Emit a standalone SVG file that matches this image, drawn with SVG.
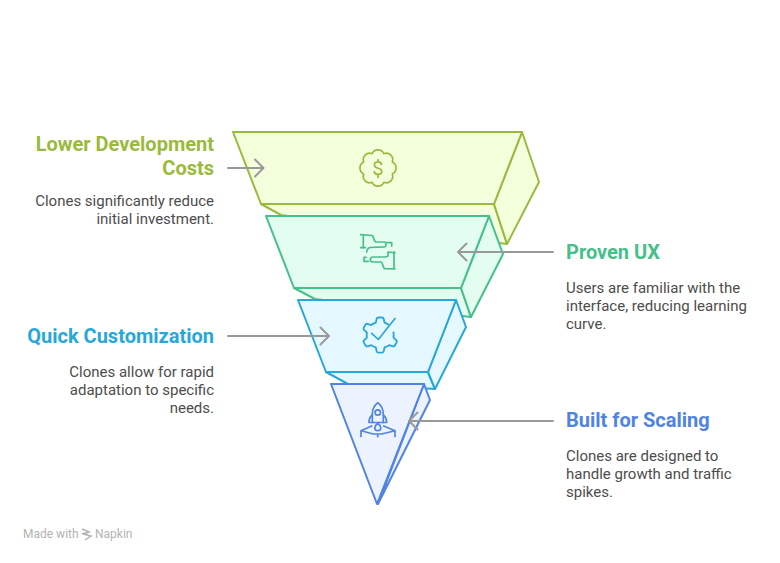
<svg xmlns="http://www.w3.org/2000/svg" width="780" height="563" viewBox="0 0 780 563">
<style>
text{font-family:Roboto,"Liberation Sans",sans-serif}
.t{font-size:20px;font-weight:700}
.b{font-size:15px;fill:#4d4d4d}
.e{text-anchor:end}
.s{stroke-width:2;stroke-linejoin:round;stroke-linecap:round}
.i{fill:none;stroke-width:1.7;stroke-linecap:round;stroke-linejoin:round}
.c{fill:none;stroke:#999;stroke-width:2;stroke-linecap:round;stroke-linejoin:round}
.w{font-size:12px;fill:#b3b3b3}
</style>
<rect width="780" height="563" fill="#fff"/>
<g id="node-lower-development-costs">
<path class="s" d="M261 204L494 204L507 244L281 215Z" fill="#f4ffdc" stroke="#9aba3e" />
<path class="s" d="M522 132L539 182L507 244L494 204Z" fill="#f4ffdc" stroke="#9aba3e"/>
<path class="s" d="M233 132H522L494 204H261Z" fill="#f4ffdc" stroke="#9aba3e"/>
<g class="i" stroke="#9aba3e">
<path d="M383.900 153.700A6.500 6.500 0 0 1 392.300 162.100A6.500 6.500 0 0 1 392.300 173.900A6.500 6.500 0 0 1 383.900 182.300A6.500 6.500 0 0 1 372.100 182.300A6.500 6.500 0 0 1 363.700 173.900A6.500 6.500 0 0 1 363.700 162.100A6.500 6.500 0 0 1 372.100 153.700A6.500 6.500 0 0 1 383.900 153.700Z"/>
<path d="M381.500 164.500c-.3-1.600-1.700-2.600-3.500-2.600c-2.100 0-3.600 1.200-3.600 3c0 4.400 7.400 2.400 7.400 6.400c0 1.900-1.600 3.100-3.800 3.100c-1.900 0-3.300-1-3.700-2.700M378 159.500v2.400M378 174.400v3"/>
</g>
</g>
<g id="node-proven-ux">
<path class="s" d="M294 288L461 288L471 317L315 299Z" fill="#e4fdf1" stroke="#45c08a"/>
<path class="s" d="M489 216L503 254L471 317L461 288Z" fill="#e4fdf1" stroke="#45c08a"/>
<path class="s" d="M266 216H489L461 288H294Z" fill="#e4fdf1" stroke="#45c08a"/>
<g class="i" stroke="#45c08a">
<path d="M360.700 234.700L372 235.500C374 236 373.500 242 376 242H384.500C386.500 242 386.500 246.500 384.500 246.800L370 247.500C367.500 248 367 249 366.700 252M363.300 235V248M360.700 247.700H365.500M386.700 242.700H391.700V246"/>
<path d="M395 253L388 252V255.500C388 256.500 387 256.800 385 257H372.500C369.500 257.500 369.500 261.500 372.500 262H381C383 262 382.500 268.500 385 268.700L395 269M394 251.700V269M364 257.300V261.300H368.300M364 257.300H366"/>
</g>
</g>
<g id="node-quick-customization">
<path class="s" d="M326 372L428 372L435 389L348 384Z" fill="#e6f8ff" stroke="#27a8d8"/>
<path class="s" d="M456 300L466 327L435 389L428 372Z" fill="#e6f8ff" stroke="#27a8d8"/>
<path class="s" d="M298 300H456L428 372H326Z" fill="#e6f8ff" stroke="#27a8d8"/>
<g class="i" stroke="#27a8d8">
<path transform="translate(378 335.500) scale(1.09) translate(-378.500 -331.500)" d="M388 321.500c-1.500-1-2.500-1.500-3.500-1.800l-.8-3.500c-.2-.7-.7-1.200-1.500-1.200h-3.400c-.8 0-1.300 .5-1.500 1.200l-.8 3.500c-1.600 .5-3 1.200-4.200 2.200l-3.400-1.100c-.7-.2-1.400 0-1.800 .7l-1.700 2.900c-.4 .7-.3 1.400 .3 1.900l2.600 2.400c-.3 1.600-.3 3.200 0 4.800l-2.600 2.400c-.6 .5-.7 1.200-.3 1.900l1.700 2.900c.4 .7 1.100 .9 1.800 .7l3.400-1.100c1.200 1 2.600 1.700 4.200 2.200l.8 3.500c.2 .7 .7 1.200 1.500 1.200h3.400c.8 0 1.300-.5 1.500-1.200l.8-3.500c1.600-.5 3-1.200 4.200-2.200l3.400 1.100c.7 .2 1.400 0 1.800-.7l1.700-2.900c.4-.7 .3-1.400-.3-1.900l-2.600-2.400c.3-1.600 .3-3.200 0-4.800"/>
<path d="M371.700 333.300L378.300 339.500L395 318.500"/>
</g>
</g>
<g id="node-built-for-scaling">
<path class="s" d="M424 384L430 400L378 504Z" fill="#edf3fe" stroke="#5084e0"/>
<path class="s" d="M331 384H424L377 504Z" fill="#edf3fe" stroke="#5084e0"/>
<g class="i" stroke="#5084e0">
<path d="M377.800 402.700c-3.700 3-5.500 7-5.500 11.300v8.500h11v-8.500c0-4.300-1.800-8.300-5.500-11.300z"/>
<circle cx="377.800" cy="412.500" r="2.700"/>
<path d="M372.300 415c-2.300 2-3.500 4.500-3.300 7.500h3.300M383.300 415c2.300 2 3.500 4.500 3.300 7.500h-3.300"/>
<path d="M377.800 423.300c-2 1.500-3 3.200-3 4.700s1.200 2.700 3 2.700s3-1.200 3-2.700s-1-3.200-3-4.700z"/>
<path d="M361 436.500V430.700L371.700 426M383.700 426L395 430.700V436.500M361 430.700L373.300 434H381.700L395 430.700M377.700 434V436.700"/>
</g>
</g>
<g id="connectors">
<path class="c" d="M228 168H263M255 159.500L263.500 168L255 176.500"/>
<path class="c" d="M553 252H458M466.500 243.500L458 252L466.500 260.500"/>
<path class="c" d="M228 336H329M320.500 327.500L329 336L320.500 344.500"/>
<path class="c" d="M553 421H409M417.500 412.500L409 421L417.500 429.500"/>
</g>
<g id="label-lower-development-costs">
<text class="t e" x="214" y="151" fill="#9aba3e">Lower Development</text>
<text class="t e" x="214" y="175" fill="#9aba3e">Costs</text>
<text class="b e" x="214" y="206">Clones significantly reduce</text>
<text class="b e" x="214" y="224">initial investment.</text>
</g>
<g id="label-proven-ux">
<text class="t" x="566" y="259" fill="#45c08a">Proven UX</text>
<text class="b" x="566" y="293">Users are familiar with the</text>
<text class="b" x="566" y="311">interface, reducing learning</text>
<text class="b" x="566" y="329">curve.</text>
</g>
<g id="label-quick-customization">
<text class="t e" x="214" y="343" fill="#27a8d8">Quick Customization</text>
<text class="b e" x="214" y="377">Clones allow for rapid</text>
<text class="b e" x="214" y="395">adaptation to specific</text>
<text class="b e" x="214" y="413">needs.</text>
</g>
<g id="label-built-for-scaling">
<text class="t" x="566" y="427" fill="#5084e0">Built for Scaling</text>
<text class="b" x="566" y="461">Clones are designed to</text>
<text class="b" x="566" y="479">handle growth and traffic</text>
<text class="b" x="566" y="497">spikes.</text>
</g>
<g id="watermark">
<text class="w" x="23" y="538">Made with</text>
<path d="M82 529l7 3l-6 2l8 2l-6 4M83 533l7 3" fill="none" stroke="#b3b3b3" stroke-width="1.500"/>
<text class="w" x="95" y="538">Napkin</text>
</g>
</svg>
